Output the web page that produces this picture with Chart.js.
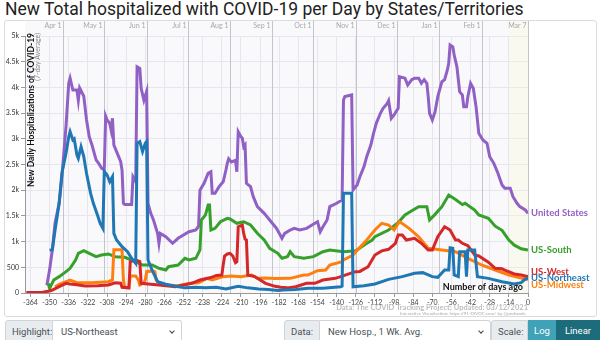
<!DOCTYPE html>
<html>
<head>
<meta charset="utf-8">
<script src="https://cdn.jsdelivr.net/npm/chart.js@4.4.1/dist/chart.umd.min.js"></script>
<style>
  html, body { margin: 0; padding: 0; width: 600px; height: 340px; overflow: hidden; background: #fff; font-family: Roboto, "Open Sans", sans-serif; }
  #title { position: absolute; left: 5px; top: -1px; font-size: 17.5px; line-height: 20px; color: #222; white-space: nowrap; }
  #card { position: absolute; left: 4px; top: 20px; width: 593px; height: 297px; border: 1px solid #dcdcdc; border-radius: 3px; box-sizing: border-box; background: #fff; }
  #chartBox { position: absolute; left: 0; top: 0; width: 600px; height: 318px; }
  .lbl, .sel, .btn { position: absolute; top: 320px; height: 24px; line-height: 22px; font-size: 9.5px; box-sizing: border-box; white-space: nowrap; }
  .lbl { background: #e9ecef; border: 1px solid #ced4da; color: #495057; padding-left: 6px; border-radius: 3px 0 0 3px; }
  .sel { background: #fff; border: 1px solid #ced4da; border-left: none; color: #495057; padding-left: 8px; border-radius: 0 3px 3px 0; }
  .sel::after { content: ""; position: absolute; right: 7px; top: 8px; width: 3px; height: 3px; border-right: 1px solid #444; border-bottom: 1px solid #444; transform: rotate(45deg); }
  .btn { color: #fff; text-align: center; }
</style>
</head>
<body>
<div id="title">New Total hospitalized with COVID-19 per Day by States/Territories</div>
<div id="card"></div>
<div id="chartBox"><canvas id="hospChart" width="600" height="318"></canvas></div>

<div class="lbl" style="left:5px; width:48px;">Highlight:</div>
<div class="sel" style="left:53px; width:129px;">US-Northeast</div>
<div class="lbl" style="left:284px; width:36px;">Data:</div>
<div class="sel" style="left:320px; width:171px;">New Hosp., 1 Wk. Avg.</div>
<div class="lbl" style="left:491px; width:37px; border-radius:3px 0 0 3px;">Scale:</div>
<div class="btn" style="left:528px; width:28px; background:#3fa2b6;">Log</div>
<div class="btn" style="left:556px; width:44px; background:#1c6c7c;">Linear</div>

<script>
// x = days before Mar 7 2021, y = new hospitalizations (7-day average)
const unitedStates = [
    [-352, 150], [-351, 300], [-350, 450], [-348, 840], [-346, 1360], [-343, 1750], [-341, 2260],
    [-338, 3240], [-336, 4080], [-335, 4180], [-333, 3950], [-330, 3950], [-329, 3750], [-328, 3990],
    [-325, 3830], [-323, 3370], [-321, 3040], [-319, 2880], [-316, 2590], [-314, 2520], [-312, 2430],
    [-310, 2400], [-309, 3440], [-308, 3370], [-306, 3300], [-305, 3170], [-304, 3400], [-303, 2880],
    [-301, 2750], [-298, 2555], [-297, 2390], [-296, 1745], [-295, 1720], [-290, 1720], [-289, 2260],
    [-287, 2165], [-286, 4400], [-284, 4370], [-283, 3980], [-281, 3750], [-279, 3920], [-278, 1745],
    [-276, 1550], [-274, 1420], [-271, 1160], [-270, 967], [-269, 1160], [-265, 1095], [-260, 967],
    [-256, 1064], [-248, 1193], [-243, 1226], [-241, 1300], [-240, 2000], [-237, 2134], [-234, 2330],
    [-232, 2360], [-231, 1940], [-229, 1940], [-226, 2070], [-223, 2165], [-221, 2393], [-220, 2523],
    [-219, 2610], [-217, 2550], [-214, 2580], [-213, 2360], [-212, 3138], [-210, 3040], [-209, 3010],
    [-208, 2846], [-207, 2880], [-206, 2134], [-203, 2070], [-201, 1874], [-198, 1680], [-193, 1550],
    [-189, 1420], [-184, 1258], [-180, 1064], [-178, 1160], [-174, 1226], [-171, 1258], [-167, 1226],
    [-162, 1258], [-158, 1323], [-154, 1387], [-152, 1193], [-150, 1290], [-147, 1420], [-145, 1680],
    [-140, 1745], [-136, 1810], [-135, 3755], [-134, 3820], [-129, 3852], [-128, 2004], [-125, 2100],
    [-123, 2263], [-120, 2458], [-118, 2652], [-115, 2880], [-113, 3107], [-111, 3301], [-108, 3496],
    [-106, 3593], [-103, 3690], [-102, 3742], [-100, 3398], [-98, 3463], [-95, 3593], [-94, 4208],
    [-90, 4180], [-88, 4047], [-85, 4150], [-83, 4180], [-80, 4180], [-78, 4080], [-76, 4150],
    [-74, 4080], [-73, 3820], [-72, 3496], [-70, 3366], [-68, 3528], [-66, 3820], [-63, 4111],
    [-61, 4150], [-59, 4339], [-58, 4468], [-57, 4825], [-55, 4790], [-54, 4630], [-52, 4400],
    [-50, 3916], [-48, 3852], [-47, 3625], [-45, 3625], [-44, 3820], [-42, 4080], [-40, 3980],
    [-38, 3625], [-36, 3107], [-33, 2977], [-30, 2912], [-28, 2652], [-25, 2523], [-22, 2329],
    [-19, 2101], [-17, 2037], [-13, 2037], [-11, 1874], [-8, 1745], [-6, 1680], [-2, 1615], [0, 1550]
];

const usSouth = [
    [-351, 188], [-350, 91], [-347, 253], [-343, 318], [-338, 415], [-335, 480], [-331, 642],
    [-329, 772], [-325, 823], [-321, 772], [-316, 707], [-312, 740], [-307, 760], [-302, 707],
    [-295, 695], [-287, 610], [-282, 545], [-275, 545], [-270, 480], [-265, 447], [-263, 512],
    [-256, 545], [-251, 675], [-248, 642], [-243, 675], [-240, 837], [-239, 1420], [-236, 1517],
    [-234, 1712], [-233, 1712], [-232, 1226], [-229, 1258], [-225, 1387], [-220, 1453], [-218, 1440],
    [-213, 1356], [-208, 1387], [-203, 1323], [-198, 1161], [-193, 1031], [-189, 870], [-183, 772],
    [-180, 675], [-176, 707], [-174, 804], [-171, 707], [-164, 675], [-157, 707], [-150, 804],
    [-145, 837], [-135, 804], [-126, 820], [-119, 950], [-114, 1031], [-112, 1095], [-102, 1226],
    [-95, 1370], [-90, 1517], [-85, 1600], [-80, 1680], [-74, 1680], [-72, 1420], [-68, 1530],
    [-63, 1680], [-58, 1906], [-53, 1820], [-48, 1720], [-46, 1745], [-39, 1615], [-36, 1517],
    [-29, 1453], [-24, 1300], [-19, 1220], [-14, 1031], [-10, 930], [-5, 860], [0, 837]
];

const usWest = [
    [-367, 10], [-355, 15], [-350, 40], [-348, 58], [-343, 123], [-338, 188], [-335, 175],
    [-330, 160], [-324, 136], [-315, 140], [-307, 156], [-302, 200], [-298, 190], [-297, 110],
    [-292, 100], [-291, 610], [-287, 642], [-284, 610], [-283, 188], [-276, 170], [-270, 156],
    [-258, 123], [-246, 188], [-240, 253], [-232, 300], [-228, 340], [-224, 350], [-223, 545],
    [-222, 720], [-220, 760], [-218, 772], [-216, 720], [-214, 590], [-213, 610], [-212, 1290],
    [-209, 1323], [-208, 1160], [-207, 1050], [-206, 1031], [-205, 350], [-200, 320], [-192, 188],
    [-185, 130], [-181, 110], [-176, 100], [-170, 123], [-162, 188], [-156, 188], [-150, 253],
    [-141, 285], [-137, 318], [-130, 383], [-126, 415], [-123, 420], [-117, 512], [-112, 740],
    [-107, 820], [-102, 850], [-97, 967], [-95, 1128], [-92, 1128], [-89, 1031], [-83, 1064],
    [-78, 967], [-73, 837], [-70, 837], [-66, 1095], [-61, 1290], [-57, 1226], [-53, 1031],
    [-51, 1031], [-48, 967], [-44, 920], [-39, 740], [-36, 720], [-29, 600], [-24, 480],
    [-19, 470], [-17, 447], [-10, 370], [-5, 350], [-2, 330], [0, 320]
];

const usNortheast = [
    [-350, 830], [-348, 840], [-346, 1226], [-343, 1745], [-341, 2329], [-338, 2718], [-336, 3040],
    [-335, 3138], [-333, 2977], [-332, 3000], [-330, 2685], [-329, 2620], [-327, 2846], [-325, 2652],
    [-323, 2329], [-320, 1940], [-318, 1745], [-315, 1517], [-313, 1355], [-311, 1258], [-310, 2360],
    [-308, 2300], [-306, 2165], [-304, 2263], [-303, 1160], [-301, 1031], [-297, 901], [-293, 804],
    [-290, 675], [-287, 577], [-286, 2912], [-284, 2945], [-282, 2750], [-280, 2912], [-279, 2945],
    [-278, 642], [-275, 447], [-271, 220], [-265, 170], [-258, 130], [-251, 100], [-243, 110],
    [-236, 100], [-228, 110], [-221, 80], [-212, 130], [-205, 100], [-197, 80], [-190, 70],
    [-183, 50], [-179, 58], [-170, 70], [-161, 91], [-150, 91], [-137, 123], [-136, 136],
    [-135, 1940], [-129, 1940], [-128, 120], [-120, 140], [-112, 175], [-102, 266], [-92, 318],
    [-83, 383], [-77, 396], [-70, 318], [-66, 305], [-61, 447], [-58, 447], [-57, 880], [-55, 870],
    [-54, 350], [-51, 318], [-50, 804], [-46, 804], [-45, 318], [-44, 837], [-39, 837], [-37, 318],
    [-29, 285], [-19, 220], [-10, 175], [-5, 200], [-2, 270], [0, 290]
];

const usMidwest = [
    [-346, 123], [-343, 170], [-338, 220], [-335, 253], [-330, 200], [-319, 200], [-307, 220],
    [-304, 253], [-303, 840], [-297, 840], [-296, 253], [-295, 110], [-292, 100], [-291, 330],
    [-287, 330], [-285, 250], [-284, 156], [-281, 200], [-280, 253], [-279, 415], [-275, 430],
    [-273, 415], [-272, 253], [-270, 200], [-265, 156], [-256, 140], [-247, 188], [-241, 200],
    [-235, 285], [-231, 253], [-223, 318], [-217, 330], [-210, 318], [-202, 350], [-198, 285],
    [-192, 290], [-185, 280], [-174, 285], [-164, 350], [-161, 350], [-154, 435], [-148, 447],
    [-145, 545], [-136, 610], [-135, 642], [-128, 740], [-126, 800], [-119, 1000], [-112, 1226],
    [-107, 1356], [-102, 1323], [-98, 1226], [-94, 1390], [-87, 1258], [-80, 1095], [-73, 870],
    [-63, 837], [-53, 804], [-44, 675], [-34, 545], [-24, 447], [-14, 350], [-5, 290], [0, 260]
];

const dayTicks = [-364, -350, -336, -322, -308, -294, -280, -266, -252, -238, -224, -210, -196,
    -182, -168, -154, -140, -126, -112, -98, -84, -70, -56, -42, -28, -14, 0];
const yTicks = [0, 500, 1000, 1500, 2000, 2500, 3000, 3500, 4000, 4500, 5000];
const yTickLabels = ['0', '500', '1k', '1.5k', '2k', '2.5k', '3k', '3.5k', '4k', '4.5k', '5k'];
const monthDays = [-340, -310, -279, -249, -218, -187, -157, -126, -96, -65, -34, 0];
const monthLabels = ['Apr 1', 'May 1', 'Jun 1', 'Jul 1', 'Aug 1', 'Sep 1', 'Oct 1', 'Nov 1', 'Dec 1', 'Jan 1', 'Feb 1', 'Mar 7'];

const FONT = 'Lato, "Open Sans", sans-serif';

function series(label, pts, color) {
    return {
        label,
        data: pts.map(p => ({ x: p[0], y: p[1] })),
        borderColor: color,
        backgroundColor: color,
        borderWidth: 3,
        pointRadius: 0,
        tension: 0,
        fill: false
    };
}

// plot background, month lines and in-plot titles
const decorations = {
    id: 'decorations',
    beforeDatasetsDraw(chart) {
        const { ctx, chartArea: a, scales: { x } } = chart;
        ctx.save();
        // last two weeks shading
        ctx.fillStyle = 'rgba(255, 250, 205, 0.25)';
        const x0 = x.getPixelForValue(-14);
        ctx.fillRect(x0, 21, a.right - x0, a.bottom - 21);

        ctx.strokeStyle = '#c4c4cc';
        ctx.lineWidth = 1;
        ctx.font = '7px ' + FONT;
        ctx.fillStyle = '#a8a8a8';
        ctx.textAlign = 'right';
        ctx.textBaseline = 'middle';
        monthDays.forEach((d, i) => {
            const px = Math.round(x.getPixelForValue(d)) + 0.5;
            ctx.beginPath();
            ctx.moveTo(px, 21);
            ctx.lineTo(px, a.bottom);
            ctx.stroke();
            ctx.fillText(monthLabels[i], px - 2, 26);
        });

        // y axis title, inside the plot
        ctx.translate(a.left + 6, 33);
        ctx.rotate(-Math.PI / 2);
        ctx.textAlign = 'right';
        ctx.fillStyle = '#111';
        ctx.font = 'bold 8.5px ' + FONT;
        ctx.fillText('New Daily Hospitalizations of COVID-19', 0, 0);
        ctx.fillStyle = '#888';
        ctx.font = '7px ' + FONT;
        ctx.fillText('(7-day Average)', 0, 7);
        ctx.restore();

        ctx.save();
        ctx.font = 'bold 9px ' + FONT;
        ctx.fillStyle = '#111';
        ctx.textAlign = 'right';
        ctx.textBaseline = 'middle';
        ctx.fillText('Number of days ago', a.right - 5, a.bottom - 6);
        ctx.restore();
    },
    beforeDraw(chart) {
        const { ctx, chartArea: a } = chart;
        ctx.save();
        ctx.fillStyle = '#f9f9fc';
        ctx.fillRect(a.left, 21, a.right - a.left, a.bottom - 21);
        ctx.restore();
    },
    afterDraw(chart) {
        const { ctx, chartArea: a } = chart;
        ctx.save();
        ctx.textAlign = 'right';
        ctx.textBaseline = 'middle';
        ctx.fillStyle = '#bdbdbd';
        ctx.font = 'bold 7.5px ' + FONT;
        ctx.fillText('Data: The COVID Tracking Project; Updated: 03/12/2021', a.right, 307.5);
        ctx.fillStyle = '#aaa';
        ctx.font = '4.5px ' + FONT;
        ctx.fillText('Interactive Visualization: https://91-DIVOC.com/ by @profwade_', a.right, 314);
        ctx.restore();
    }
};

// series names at the right end of each line, nudged apart when they collide
const endLabels = {
    id: 'endLabels',
    afterDatasetsDraw(chart) {
        const { ctx, chartArea: a, scales: { y } } = chart;
        const items = chart.data.datasets.map(ds => ({
            text: ds.label,
            color: ds.borderColor,
            py: y.getPixelForValue(ds.data[ds.data.length - 1].y)
        }));
        items.sort((p, q) => p.py - q.py);
        const gap = 6.5;
        for (let pass = 0; pass < 30; pass++) {
            for (let i = 1; i < items.length; i++) {
                const d = items[i].py - items[i - 1].py;
                if (d < gap) {
                    const push = (gap - d) / 2;
                    items[i].py += push;
                    items[i - 1].py -= push;
                }
            }
        }
        ctx.save();
        ctx.font = 'bold 9.5px ' + FONT;
        ctx.textBaseline = 'middle';
        ctx.textAlign = 'left';
        items.forEach(it => {
            ctx.fillStyle = it.color;
            ctx.fillText(it.text, a.right + 3, it.py);
        });
        ctx.restore();
    }
};

const ctx = document.getElementById('hospChart').getContext('2d');
const hospChart = new Chart(ctx, {
    type: 'line',
    data: {
        datasets: [
            series('US-Northeast', usNortheast, '#1f77b4'),
            series('US-West', usWest, '#d62728'),
            series('US-Midwest', usMidwest, '#ff7f0e'),
            series('US-South', usSouth, '#35a02a'),
            series('United States', unitedStates, '#9060c4')
        ]
    },
    options: {
        responsive: false,
        animation: false,
        devicePixelRatio: 1,
        layout: { padding: { left: 0, right: 72, top: 36, bottom: 0 } },
        plugins: {
            legend: { display: false },
            tooltip: { enabled: false }
        },
        scales: {
            x: {
                type: 'linear',
                min: -368,
                max: 0,
                afterBuildTicks: s => { s.ticks = dayTicks.map(v => ({ value: v })); },
                afterFit: s => { s.height = 25; },
                ticks: { autoSkip: false, maxRotation: 0, padding: 2, color: '#444', font: { size: 7, family: FONT } },
                grid: { color: '#e6e6ee', tickLength: 4, tickColor: '#999' },
                border: { color: '#999' }
            },
            y: {
                min: 0,
                max: 5000,
                afterBuildTicks: s => { s.ticks = yTicks.map(v => ({ value: v })); },
                afterFit: s => { s.width = 25; },
                ticks: {
                    padding: 2,
                    color: '#333',
                    font: { size: 7, family: FONT },
                    callback: v => yTickLabels[yTicks.indexOf(v)]
                },
                grid: { color: '#e6e6ee', tickLength: 4, tickColor: '#999' },
                border: { color: '#999' }
            }
        }
    },
    plugins: [decorations, endLabels]
});
</script>
</body>
</html>
